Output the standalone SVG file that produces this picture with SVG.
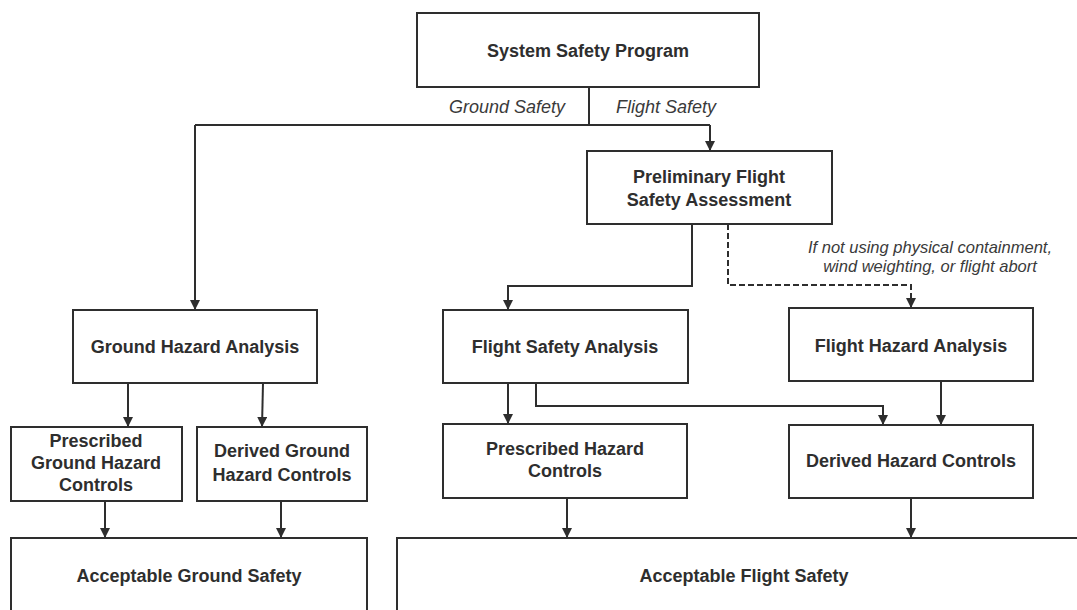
<svg xmlns="http://www.w3.org/2000/svg" width="1077" height="610" viewBox="0 0 1077 610">
  <style>
    .box { fill: #ffffff; stroke: #2e2e2e; stroke-width: 2; }
    .t { font-family: "Liberation Sans", Arial, sans-serif; font-weight: bold; font-size: 18px; fill: #2e2e2e; text-anchor: middle; }
    .lbl { font-family: "Liberation Sans", Arial, sans-serif; font-style: italic; font-size: 18px; fill: #3a3a3a; text-anchor: middle; }
    .note { font-family: "Liberation Sans", Arial, sans-serif; font-style: italic; font-size: 16.5px; fill: #3a3a3a; text-anchor: middle; }
    .c { fill: none; stroke: #2e2e2e; stroke-width: 2; }
    .ca { fill: none; stroke: #2e2e2e; stroke-width: 2; marker-end: url(#arr); }
    .dash { stroke-dasharray: 6 3; }
  </style>
  <defs>
    <marker id="arr" viewBox="0 0 10 10" refX="10" refY="5" markerWidth="10" markerHeight="10" markerUnits="userSpaceOnUse" orient="auto">
      <path d="M0,0 L10,5 L0,10 z" fill="#2e2e2e"/>
    </marker>
  </defs>
  <rect width="1077" height="610" fill="#ffffff"/>

  <g id="connectors">
    <line class="c" x1="589" y1="87" x2="589" y2="125"/>
    <line class="c" x1="195" y1="125" x2="710" y2="125"/>
    <line class="ca" x1="195" y1="125" x2="195" y2="310"/>
    <line class="ca" x1="710" y1="125" x2="710" y2="151"/>
    <polyline class="ca" points="692,224 692,286 508,286 508,310"/>
    <polyline class="ca dash" points="728,224 728,285 911,285 911,308"/>
    <line class="ca" x1="128" y1="383" x2="128" y2="427"/>
    <line class="ca" x1="263" y1="383" x2="262" y2="427"/>
    <line class="ca" x1="105" y1="501" x2="105" y2="538"/>
    <line class="ca" x1="281" y1="501" x2="281" y2="538"/>
    <line class="ca" x1="508" y1="383" x2="508" y2="424"/>
    <polyline class="ca" points="536,383 536,406 883,406 883,425"/>
    <line class="ca" x1="941" y1="381" x2="941" y2="425"/>
    <line class="ca" x1="567" y1="498" x2="567" y2="538"/>
    <line class="ca" x1="911" y1="498" x2="911" y2="538"/>
    <text class="lbl" x="507" y="113">Ground Safety</text>
    <text class="lbl" x="666" y="113">Flight Safety</text>
    <text class="note" x="930" y="253">If not using physical containment,</text>
    <text class="note" x="930" y="272">wind weighting, or flight abort</text>
  </g>

  <g id="system-safety-program">
    <rect class="box" x="417" y="13" width="342" height="74"/>
    <text class="t" x="588" y="57">System Safety Program</text>
  </g>
  <g id="preliminary-flight-safety-assessment">
    <rect class="box" x="587" y="151" width="245" height="73"/>
    <text class="t" x="709" y="183">Preliminary Flight</text>
    <text class="t" x="709" y="206">Safety Assessment</text>
  </g>
  <g id="ground-hazard-analysis">
    <rect class="box" x="73" y="310" width="244" height="73"/>
    <text class="t" x="195" y="353">Ground Hazard Analysis</text>
  </g>
  <g id="flight-safety-analysis">
    <rect class="box" x="443" y="310" width="245" height="73"/>
    <text class="t" x="565" y="353">Flight Safety Analysis</text>
  </g>
  <g id="flight-hazard-analysis">
    <rect class="box" x="789" y="308" width="244" height="73"/>
    <text class="t" x="911" y="352">Flight Hazard Analysis</text>
  </g>
  <g id="prescribed-ground-hazard-controls">
    <rect class="box" x="11" y="427" width="171" height="74"/>
    <text class="t" x="96" y="447">Prescribed</text>
    <text class="t" x="96" y="469">Ground Hazard</text>
    <text class="t" x="96" y="491">Controls</text>
  </g>
  <g id="derived-ground-hazard-controls">
    <rect class="box" x="197" y="427" width="170" height="74"/>
    <text class="t" x="282" y="457">Derived Ground</text>
    <text class="t" x="282" y="481">Hazard Controls</text>
  </g>
  <g id="prescribed-hazard-controls">
    <rect class="box" x="443" y="424" width="244" height="74"/>
    <text class="t" x="565" y="455">Prescribed Hazard</text>
    <text class="t" x="565" y="477">Controls</text>
  </g>
  <g id="derived-hazard-controls">
    <rect class="box" x="789" y="425" width="244" height="73"/>
    <text class="t" x="911" y="467">Derived Hazard Controls</text>
  </g>
  <g id="acceptable-ground-safety">
    <rect class="box" x="11" y="538" width="356" height="90"/>
    <text class="t" x="189" y="582">Acceptable Ground Safety</text>
  </g>
  <g id="acceptable-flight-safety">
    <rect class="box" x="397" y="538" width="700" height="90"/>
    <text class="t" x="744" y="582">Acceptable Flight Safety</text>
  </g>
</svg>
